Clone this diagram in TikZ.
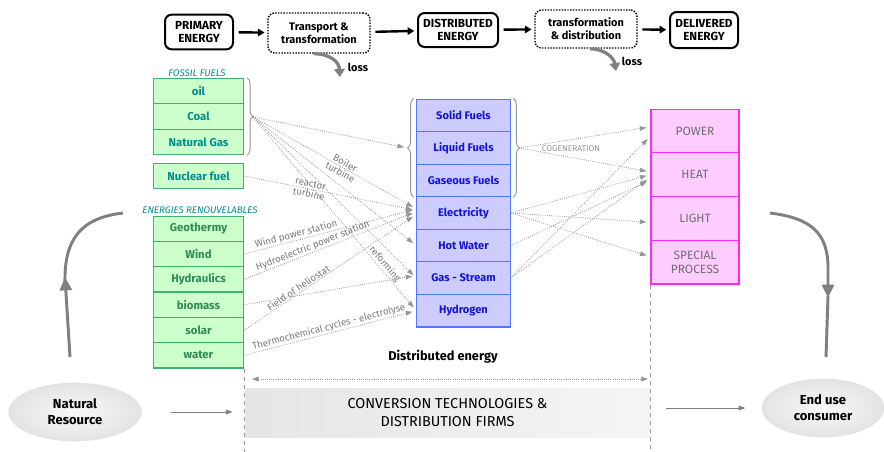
\documentclass[tikz,border=0pt]{standalone}
\usepackage{fontspec}
\setmainfont{Fira Sans}
\definecolor{grnfill}{RGB}{204,255,204}
\definecolor{grnline}{RGB}{60,179,113}
\definecolor{grntext}{RGB}{46,139,87}
\definecolor{fostext}{RGB}{0,140,140}
\definecolor{blufill}{RGB}{204,204,255}
\definecolor{bluline}{RGB}{80,120,255}
\definecolor{blutext}{RGB}{20,20,210}
\definecolor{pnkfill}{RGB}{255,204,255}
\definecolor{pnkline}{RGB}{255,40,255}
\definecolor{pnktext}{RGB}{110,110,110}
\definecolor{soft}{RGB}{150,150,150}
\definecolor{heavy}{RGB}{128,128,128}
\usetikzlibrary{arrows.meta,decorations.pathreplacing,shapes.geometric}
\tikzset{
  topbox/.style={draw,line width=1.5pt,rounded corners=5pt,align=center,inner sep=0.5pt,
    font=\bfseries\fontsize{8.8}{10}\selectfont},
  procbox/.style={draw,densely dotted,line width=1.1pt,rounded corners=5pt,align=center,inner sep=1pt,
    minimum width=76.5pt,font=\bfseries\fontsize{8.2}{9.8}\selectfont},
  toparrow/.style={line width=1.8pt,-{Triangle[length=5pt,width=5.5pt]},shorten <=3.5pt,shorten >=2pt},
  lossarrow/.style={heavy,line width=2.4pt,-{Triangle[length=6pt,width=8pt]}},
  srcbox/.style={draw=grnline,fill=grnfill,line width=0.8pt,minimum width=68pt,minimum height=19pt,
    inner sep=0pt,font=\bfseries\fontsize{8.5}{10}\selectfont},
  fossil/.style={srcbox,text=fostext},
  renew/.style={srcbox,text=grntext},
  distbox/.style={draw=bluline,fill=blufill,line width=0.8pt,minimum width=70pt,minimum height=24.4pt,
    inner sep=0pt,text=blutext,font=\bfseries\fontsize{8.3}{10}\selectfont},
  needbox/.style={draw=pnkline,fill=pnkfill,line width=0.8pt,minimum width=66pt,minimum height=32.8pt,
    inner sep=0pt,text=pnktext,align=center,font=\fontsize{9}{10.5}\selectfont},
  feed/.style={soft,densely dotted,line width=0.6pt,-{Triangle[length=5pt,width=3.5pt]},shorten >=3pt},
  feedlbl/.style={text=soft!80!black,font=\fontsize{7.2}{7.8}\selectfont,inner sep=0.5pt},
  grouplbl/.style={font=\itshape\fontsize{7.2}{8}\selectfont,text=fostext},
  bigarrow/.style={heavy,line width=2.2pt},
  blob/.style={ellipse,inner color=gray!5,outer color=gray!22,align=center,inner sep=1pt,
    font=\bfseries\fontsize{9.8}{12}\selectfont}
}
\begin{document}
\begin{tikzpicture}[x=0.75pt,y=-0.75pt]
        \useasboundingbox (0,0) rectangle (884,451);
        \node[topbox,minimum width=51pt,minimum height=26pt] (prim) at (199,32) {PRIMARY\\ENERGY};
        \node[procbox,minimum height=30pt] (trans) at (319,33) {Transport \&\\transformation};
        \node[topbox,minimum width=60pt,minimum height=25.5pt] (dist) at (458,30) {DISTRIBUTED\\ENERGY};
        \node[procbox,minimum height=28.5pt] (tdist) at (586,29) {transformation\\\& distribution};
        \node[topbox,minimum width=51pt,minimum height=27pt] (deliv) at (704,30) {DELIVERED\\ENERGY};
        \draw[toparrow] (prim) -- (trans);
        \draw[toparrow] (trans) -- (dist);
        \draw[toparrow] (dist) -- (tdist);
        \draw[toparrow] (tdist) -- (deliv);
        \coordinate (lossa) at (340,77);
        \coordinate (lossb) at (616,71);
        \draw[lossarrow] ([xshift=-4pt]trans.south) .. controls (331,54) and (339,62) .. (lossa);
        \draw[lossarrow] ([xshift=3pt]tdist.south) .. controls (605,49) and (614,58) .. (lossb);
        \node[font=\bfseries\fontsize{8.2}{9}\selectfont] (losstxta) at (358,67) {loss};
        \node[font=\bfseries\fontsize{8.2}{9}\selectfont] (losstxtb) at (632,61) {loss};

        \node[grouplbl] (fostitle) at (197,73) {FOSSIL FUELS};
        \node[fossil] (oil) at (198.5,91) {oil};
        \node[fossil] (coal) at (198.5,116.5) {Coal};
        \node[fossil] (ngas) at (198.5,142) {Natural Gas};
        \node[fossil] (nucl) at (198.5,176) {Nuclear fuel};
        \node[grouplbl] (rentitle) at (200,210) {ENERGIES RENOUVELABLES};
        \node[renew] (geoth) at (198.5,228.7) {Geothermy};
        \node[renew] (wind) at (198.5,254) {Wind};
        \node[renew] (hydr) at (198.5,279.3) {Hydraulics};
        \node[renew] (biom) at (198.5,304.7) {biomass};
        \node[renew] (solar) at (198.5,330) {solar};
        \node[renew] (water) at (198.5,355.3) {water};
        \draw[soft,line width=0.7pt,decorate,decoration={brace,amplitude=4.5pt}]
          ([xshift=2pt]oil.north east) -- ([xshift=2pt]ngas.south east);
        \coordinate (fosb) at (253,117);

        \node[distbox] (solid) at (463.5,115.3) {Solid Fuels};
        \node[distbox] (liquid) at (463.5,147.9) {Liquid Fuels};
        \node[distbox] (gasf) at (463.5,180.4) {Gaseous Fuels};
        \node[distbox] (elec) at (463.5,213) {Electricity};
        \node[distbox] (hotw) at (463.5,245.6) {Hot Water};
        \node[distbox] (gass) at (463.5,278.1) {Gas - Stream};
        \node[distbox] (hydro) at (463.5,310.7) {Hydrogen};
        \draw[soft,line width=0.7pt,decorate,decoration={brace,amplitude=4.5pt}]
          ([xshift=-2pt]gasf.south west) -- ([xshift=-2pt]solid.north west);
        \draw[soft,line width=0.7pt,decorate,decoration={brace,amplitude=4.5pt}]
          ([xshift=2pt]solid.north east) -- ([xshift=2pt]gasf.south east);
        \coordinate (dleft) at (408,148);
        \coordinate (dright) at (519,148);

        \node[needbox] (power) at (695,130.9) {POWER};
        \node[needbox] (heat) at (695,174.6) {HEAT};
        \node[needbox] (light) at (695,218.4) {LIGHT};
        \node[needbox] (spec) at (695,262.1) {SPECIAL\\PROCESS};

        \draw[feed] (fosb) -- (dleft);
        \draw[feed] (fosb) -- ([yshift=3pt]elec.west)
          node[feedlbl,sloped,pos=0.55,align=center] {Boiler\\turbine};
        \draw[feed] (fosb) -- (hotw.west);
        \draw[feed] (fosb) -- (gass.west);
        \draw[feed] (fosb) -- (hydro.west) node[feedlbl,sloped,above,pos=0.78] {reforming};
        \draw[feed] (nucl.east) -- ([yshift=2pt]elec.west)
          node[feedlbl,sloped,pos=0.38,align=center] {reactor\\turbine};
        \draw[feed] (wind.east) -- ([yshift=3pt]elec.west)
          node[feedlbl,sloped,above,pos=0.31] {Wind power station};
        \draw[feed] (hydr.east) -- ([yshift=1pt]elec.west)
          node[feedlbl,sloped,above,pos=0.41] {Hydroelectric power station};
        \draw[feed] (biom.east) -- ([yshift=2pt]gass.west);
        \draw[feed] (solar.east) -- ([yshift=-1pt]elec.west)
          node[feedlbl,sloped,above,pos=0.33] {Field of heliostat};
        \draw[feed] (water.east) -- (hydro.west)
          node[feedlbl,sloped,above,pos=0.5] {Thermochemical cycles - electrolyse};

        \draw[feed] (dright) -- ([yshift=3pt]power.west);
        \draw[feed] (dright) -- ([yshift=2pt]heat.west);
        \draw[feed] (gass.east) -- ([yshift=-4pt]power.west);
        \draw[feed] (gass.east) -- ([yshift=-2pt]heat.west);
        \draw[feed] (elec.east) -- (heat.west);
        \draw[feed] (elec.east) -- ([yshift=-3pt]light.west);
        \draw[feed] (elec.east) -- ([yshift=4pt]spec.west);
        \draw[feed] (hotw.east) -- ([yshift=-4pt]heat.west);
        \node[text=soft,font=\fontsize{6.3}{7}\selectfont] (cogen) at (571,149) {COGENERATION};

        \draw[soft,dashed,line width=0.6pt] (water.south east) -- ++(0,83);
        \draw[soft,dashed,line width=0.6pt] (spec.south west) -- ++(0,167);
        \node[font=\bfseries\fontsize{9.6}{11}\selectfont] (distlbl) at (443,357) {Distributed energy};
        \coordinate (spanl) at (252,379);
        \coordinate (spanr) at (648,379);
        \draw[soft,densely dotted,line width=0.6pt,
          {Triangle[length=5pt,width=3.5pt]}-{Triangle[length=5pt,width=3.5pt]}] (spanl) -- (spanr);
        \node[left color=gray!20,right color=gray!8,minimum width=304pt,minimum height=36.75pt,
          align=center,font=\fontsize{10.8}{13}\selectfont] (conv) at (447.5,412.5)
          {CONVERSION TECHNOLOGIES \&\\DISTRIBUTION FIRMS};
        \node[blob,minimum width=100pt,minimum height=44pt] (natres) at (75,412) {Natural\\Resource};
        \node[blob,minimum width=92pt,minimum height=44pt] (enduse) at (823,408) {End use\\consumer};
        \draw[heavy,line width=0.7pt,-{Triangle[length=5pt,width=3.5pt]},shorten <=22pt,shorten >=9pt]
          (natres.east) -- (natres.east -| conv.west);
        \draw[heavy,line width=0.7pt,-{Triangle[length=5pt,width=3.5pt]},shorten <=12pt,shorten >=12pt]
          (enduse.west -| conv.east) -- (enduse.west);

        \draw[bigarrow,-{Triangle[length=10pt,width=9pt]}] (70,357) -- (65,277);
        \draw[bigarrow] (65,283) .. controls (64,240) and (80,218) .. (123,213);
        \draw[bigarrow] (770,213) .. controls (810,218) and (828,232) .. (828,268) -- (828,290);
        \draw[bigarrow,-{Triangle[length=10pt,width=9pt]}] (828,284) -- (828,298);
        \draw[bigarrow] (828,296) -- (826,357);
\end{tikzpicture}
\end{document}
